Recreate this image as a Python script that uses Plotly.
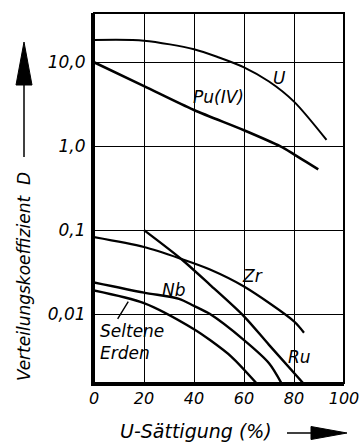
import plotly.graph_objects as go
import math

# ---- data ----
pct_U = [0, 20, 40, 50, 60, 70, 80, 93]
D_U = [18.4, 18.1, 14.3, 11.4, 8.7, 5.9, 3.4, 1.19]

pct_Pu = [0, 20, 40, 60, 74.4, 80, 89.7]
D_Pu = [10.0, 5.2, 2.7, 1.55, 1.0, 0.8, 0.53]

pct_Zr = [0, 20, 34.4, 46.4, 60, 80, 84]
D_Zr = [0.0826, 0.063, 0.046, 0.034, 0.0213, 0.0082, 0.006]

pct_Ru = [20, 35, 46.4, 60, 70, 83.7]
D_Ru = [0.1, 0.045, 0.0223, 0.0094, 0.0043, 0.0015]

pct_Nb = [0, 20, 34, 40, 46.4, 60, 70, 75]
D_Nb = [0.0238, 0.018, 0.0152, 0.0125, 0.01, 0.0049, 0.0026, 0.0015]

pct_SE = [0, 20, 40, 46.4, 55, 65]
D_SE = [0.0191, 0.0135, 0.0066, 0.0049, 0.0031, 0.0015]

x_ticks = [0, 20, 40, 60, 80, 100]
x_ticktext = ["0", "20", "40", "60", "80", "100"]
y_ticks = [10, 1, 0.1, 0.01]
y_ticktext = ["10,0", "1,0", "0,1", "0,01"]

# curve labels: (text, x, D)
labels = [
    ("U", 74, 6.5),
    ("Pu(IV)", 49.6, 3.86),
    ("Zr", 63.2, 0.0286),
    ("Ru", 82, 0.0031),
    ("Nb", 31.8, 0.0192),
]
se_label = ("Seltene<br>Erden", 1.4, 0.0046)
se_leader_from = (9.1, 0.0084)
se_leader_to = (13.7, 0.0141)

FONT = "DejaVu Sans"
W, H = 360, 443
L, R, T, B = 94, 16, 13, 60
PW, PH = W - L - R, H - T - B


def px(xp):
    return (xp - L) / PW


def py(yp):
    return (H - B - yp) / PH


fig = go.Figure()
series = [
    (pct_U, D_U, 2.0),
    (pct_Pu, D_Pu, 2.6),
    (pct_Zr, D_Zr, 2.2),
    (pct_Ru, D_Ru, 2.4),
    (pct_Nb, D_Nb, 2.4),
    (pct_SE, D_SE, 2.4),
]
for xs, ys, w in series:
    fig.add_trace(go.Scatter(x=xs, y=ys, mode="lines",
                             line=dict(color="black", width=w, shape="spline", smoothing=0.8),
                             showlegend=False, hoverinfo="skip"))

ann = []
for t, x, d in labels:
    ann.append(dict(text=t, x=x, y=math.log10(d), xref="x", yref="y", showarrow=False,
                    font=dict(size=17, family=FONT, color="black", style="italic")))
ann.append(dict(text=se_label[0], x=se_label[1], y=math.log10(se_label[2]), xref="x", yref="y",
                showarrow=False, xanchor="left", align="left",
                font=dict(size=17, family=FONT, color="black", style="italic")))
ann.append(dict(text="", x=se_leader_to[0], y=math.log10(se_leader_to[1]),
                ax=se_leader_from[0], ay=math.log10(se_leader_from[1]),
                xref="x", yref="y", axref="x", ayref="y", showarrow=True,
                arrowhead=0, arrowwidth=1.4, arrowcolor="black", standoff=0, startstandoff=0))
# axis titles
ann.append(dict(text="Verteilungskoeffizient  D", x=px(24), y=py(277), xref="paper", yref="paper",
                showarrow=False, textangle=-90, xanchor="center", yanchor="middle",
                font=dict(size=17, family=FONT, color="black", style="italic")))
ann.append(dict(text="U-Sättigung (%)", x=px(196), y=py(443), xref="paper", yref="paper",
                showarrow=False, xanchor="center", yanchor="bottom", borderpad=0,
                font=dict(size=19, family=FONT, color="black", style="italic")))

shapes = [
    # frame top/right
    dict(type="rect", xref="paper", yref="paper", x0=0, x1=1, y0=0, y1=1,
         line=dict(color="black", width=2)),
    # y arrow
    dict(type="line", xref="paper", yref="paper", x0=px(24), x1=px(24), y0=py(157), y1=py(84),
         line=dict(color="black", width=1.5)),
    dict(type="path", xref="paper", yref="paper",
         path=f"M {px(16)},{py(85)} L {px(32)},{py(85)} L {px(24)},{py(42)} Z",
         fillcolor="black", line=dict(color="black", width=1)),
    # x arrow
    dict(type="line", xref="paper", yref="paper", x0=px(287), x1=px(313), y0=py(433), y1=py(433),
         line=dict(color="black", width=1.5)),
    dict(type="path", xref="paper", yref="paper",
         path=f"M {px(311)},{py(426.5)} L {px(311)},{py(439.5)} L {px(347)},{py(433)} Z",
         fillcolor="black", line=dict(color="black", width=1)),
]

fig.update_layout(
    width=W, height=H, margin=dict(l=L, r=R, t=T, b=B, pad=0),
    paper_bgcolor="white", plot_bgcolor="white",
    font=dict(family=FONT, size=17, color="black", style="italic"),
    annotations=ann, shapes=shapes,
    xaxis=dict(range=[0, 100], tickvals=x_ticks, ticktext=x_ticktext, showgrid=True,
               automargin=False,
               gridcolor="black", gridwidth=1, zeroline=False, showline=True, linecolor="black",
               linewidth=3, ticks="", ticklabelstandoff=-1,
               tickfont=dict(size=16, family=FONT, style="italic")),
    yaxis=dict(type="log", range=[-2.821, 1.587], tickvals=y_ticks, ticktext=y_ticktext,
               automargin=False,
               showgrid=True, gridcolor="black", gridwidth=1, zeroline=False, showline=True,
               linecolor="black", linewidth=3, ticks="", ticklabelstandoff=2,
               tickfont=dict(size=17, family=FONT, style="italic")),
)

fig.write_html("out.html")
